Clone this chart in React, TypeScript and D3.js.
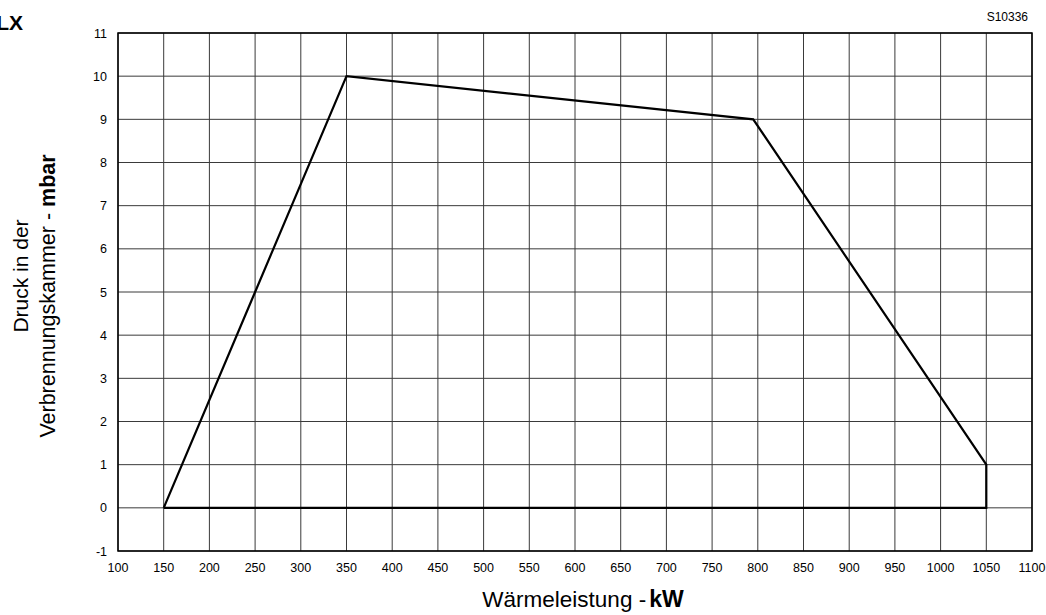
import React from 'react';
import * as d3 from 'd3';

// field boundary of the burner (kW, mbar)
const powerKw = [150, 350, 795, 1050, 1050, 150];
const pressureMbar = [0, 10, 9, 1, 0, 0];

const xTicks = d3.range(100, 1101, 50);
const yTicks = d3.range(-1, 12, 1);

const W = 1046;
const H = 615;
const margin = {top: 33, right: 14, bottom: 64, left: 118};

export default function App() {
  const x = d3
    .scaleLinear()
    .domain([100, 1100])
    .range([margin.left, W - margin.right]);
  const y = d3
    .scaleLinear()
    .domain([-1, 11])
    .range([H - margin.bottom, margin.top]);

  const pts: [number, number][] = powerKw.map((p, i) => [p, pressureMbar[i]]);
  const line = d3
    .line<[number, number]>()
    .x(d => x(d[0]))
    .y(d => y(d[1]));

  const font = 'Arial, "Liberation Sans", sans-serif';

  return (
    <svg
      width={W}
      height={H}
      style={{position: 'absolute', left: 0, top: 0, background: '#fff'}}
      fontFamily={font}>
      {/* grid */}
      {xTicks.map(t => (
        <line
          key={'gx' + t}
          x1={x(t)}
          x2={x(t)}
          y1={y(-1)}
          y2={y(11)}
          stroke="#3a3a3a"
          strokeWidth={1}
        />
      ))}
      {yTicks.map(t => (
        <line
          key={'gy' + t}
          x1={x(100)}
          x2={x(1100)}
          y1={y(t)}
          y2={y(t)}
          stroke="#3a3a3a"
          strokeWidth={1}
        />
      ))}
      <rect
        x={x(100)}
        y={y(11)}
        width={x(1100) - x(100)}
        height={y(-1) - y(11)}
        fill="none"
        stroke="#000"
        strokeWidth={1.5}
      />

      {/* field */}
      <path
        d={line(pts) || ''}
        fill="none"
        stroke="#000"
        strokeWidth={2.2}
        strokeLinejoin="miter"
      />

      {/* tick labels */}
      {yTicks.map(t => (
        <text
          key={'ty' + t}
          x={x(100) - 11}
          y={y(t) + 4.5}
          fontSize={12.5}
          textAnchor="end">
          {t}
        </text>
      ))}
      {xTicks.map(t => (
        <text
          key={'tx' + t}
          x={x(t)}
          y={y(-1) + 21}
          fontSize={12.5}
          textAnchor="middle">
          {t}
        </text>
      ))}

      {/* titles */}
      <text x={583} y={607} fontSize={22.5} textAnchor="middle">
        Wärmeleistung -<tspan fontWeight="bold" fontSize={23} dx={3}>kW</tspan>
      </text>
      <g transform="translate(0,276) rotate(-90)">
        <text x={0} y={28} fontSize={21} textAnchor="middle">
          Druck in der
        </text>
      </g>
      <g transform="translate(0,296) rotate(-90)">
        <text x={0} y={55} fontSize={21.5} textAnchor="middle">
          Verbrennungskammer -<tspan fontWeight="bold"> mbar</tspan>
        </text>
      </g>

      <text x={23} y={30} fontSize={21} fontWeight="bold" textAnchor="end">
        LX
      </text>
      <text x={1028} y={21} fontSize={12} textAnchor="end">
        S10336
      </text>
    </svg>
  );
}
